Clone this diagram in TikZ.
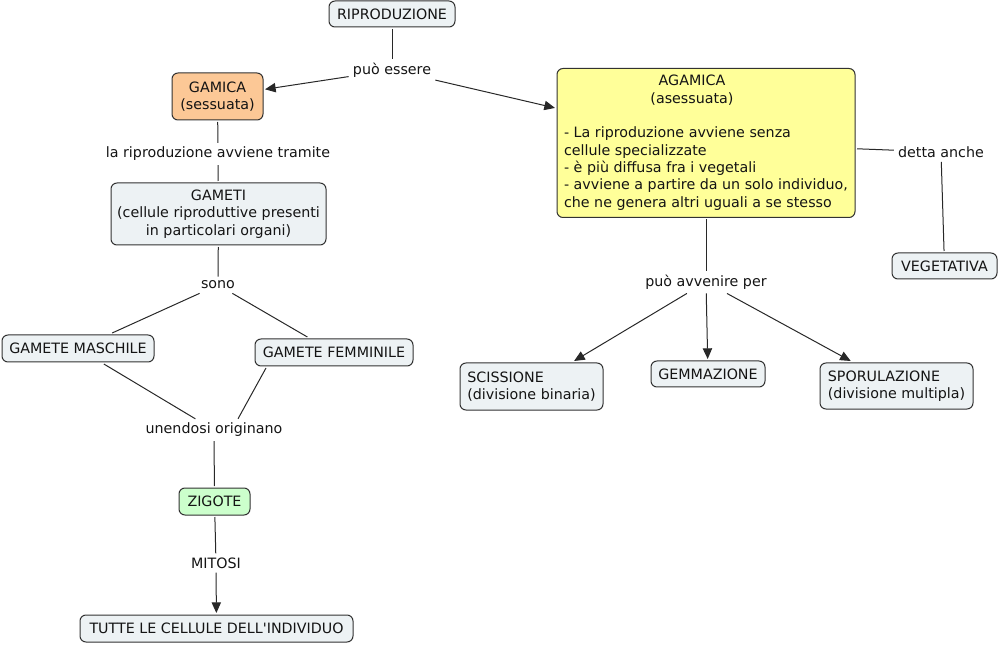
\documentclass[tikz,border=0pt]{standalone}
\usepackage{fontspec}
\setmainfont{DejaVu Sans}[Ligatures=TeXOff]
\usetikzlibrary{arrows.meta}
\definecolor{boxfill}{RGB}{237,242,244}
\definecolor{gamfill}{RGB}{252,200,150}
\definecolor{agamfill}{RGB}{255,255,153}
\definecolor{zigfill}{RGB}{204,255,204}
\definecolor{boxdraw}{RGB}{50,50,50}
\definecolor{linecol}{RGB}{40,40,40}
\definecolor{txt}{RGB}{20,20,20}
\begin{document}
\begin{tikzpicture}[x=0.75pt,y=-0.75pt,
  box/.style={draw=boxdraw, line width=0.75pt, rounded corners=4.5pt, fill=boxfill,
    font=\fontsize{10.7}{13}\selectfont, text=txt, inner sep=2pt, outer sep=1.5pt, align=center},
  lbl/.style={font=\fontsize{10.7}{13}\selectfont, text=txt, inner sep=3pt},
  con/.style={draw=linecol, line width=0.75pt},
  arr/.style={con, -{Triangle[length=8pt,width=7pt]}}]
\useasboundingbox (0,0) rectangle (1000,645);

% boxes
\node[box, minimum width=94.5pt, minimum height=19.5pt] (ripr) at (392,14) {RIPRODUZIONE};
\node[box, fill=gamfill, minimum width=68.25pt, minimum height=35.25pt] (gamica) at (217.5,96.5) {GAMICA\\(sessuata)};
\node[box, fill=agamfill, minimum width=223.5pt, minimum height=111.75pt] (agam) at (706,143)
  {\begin{tabular}{@{}l@{}}
   \multicolumn{1}{@{}c@{}}{AGAMICA\hspace{21pt}\null}\\
   \multicolumn{1}{@{}c@{}}{(asessuata)\hspace{21pt}\null}\\
   \\
   - La riproduzione avviene senza\\
   cellule specializzate\\
   - è più diffusa fra i vegetali\\
   - avviene a partire da un solo individuo,\\
   che ne genera altri uguali a se stesso
   \end{tabular}};
\node[box, minimum width=78.75pt, minimum height=19.5pt] (veg) at (944.5,266) {VEGETATIVA};
\node[box, align=left, minimum width=107.25pt, minimum height=35.25pt] (sciss) at (531.5,386.5) {SCISSIONE\\(divisione binaria)};
\node[box, minimum width=85.5pt, minimum height=19.5pt] (gemm) at (708,374) {GEMMAZIONE};
\node[box, align=left, minimum width=114.75pt, minimum height=34.5pt] (spor) at (896.5,386) {SPORULAZIONE\\(divisione multipla)};
\node[box, minimum width=161.25pt, minimum height=46.5pt] (gameti) at (218.5,214) {GAMETI\\(cellule riproduttive presenti\\in particolari organi)};
\node[box, minimum width=114pt, minimum height=20.25pt] (masch) at (78,348.5) {GAMETE MASCHILE};
\node[box, minimum width=118.5pt, minimum height=20.25pt] (femm) at (334,352.5) {GAMETE FEMMINILE};
\node[box, fill=zigfill, minimum width=53.25pt, minimum height=20.25pt] (zig) at (214.5,501.5) {ZIGOTE};
\node[box, minimum width=204.75pt, minimum height=20.25pt] (tutte) at (216.5,628.5) {TUTTE LE CELLULE DELL'INDIVIDUO};

% labels
\node[lbl] (puoess) at (392,70) {può essere};
\node[lbl] (tramite) at (218,154) {la riproduzione avviene tramite};
\node[lbl] (sono) at (218,285) {sono};
\node[lbl] (unend) at (214,430) {unendosi originano};
\node[lbl] (mitosi) at (216,563) {MITOSI};
\node[lbl] (detta) at (941,152) {detta anche};
\node[lbl] (avven) at (706,282) {può avvenire per};

% connectors
\draw[con] (ripr) -- (puoess);
\draw[arr] (puoess) -- (gamica);
\draw[arr] (puoess) -- (agam);
\draw[con] (agam) -- (detta);
\draw[con] (detta) -- (veg);
\draw[con] (agam.south) -- (avven);
\draw[arr] (avven) -- (sciss);
\draw[arr] (avven) -- (gemm);
\draw[arr] (avven) -- (spor);
\draw[con] (gamica) -- (tramite);
\draw[con] (tramite) -- (gameti);
\draw[con] (gameti) -- (sono);
\draw[con] (sono) -- (masch);
\draw[con] (sono) -- (femm);
\draw[con] (masch) -- (unend);
\draw[con] ([xshift=9.75pt]femm.south west) -- ([xshift=18pt]unend.north);
\draw[con] (unend) -- (zig);
\draw[con] (zig) -- (mitosi);
\draw[arr] (mitosi) -- (tutte);
\end{tikzpicture}
\end{document}
